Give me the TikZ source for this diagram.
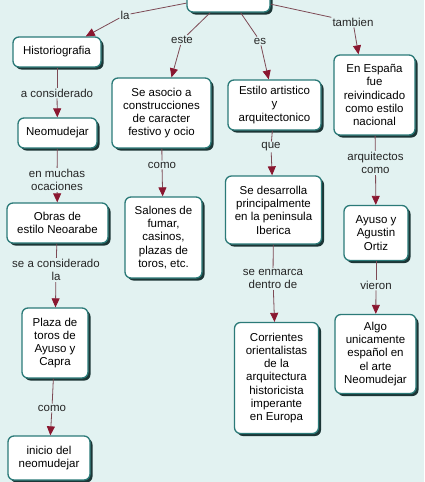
\documentclass[tikz,border=0pt]{standalone}
\usepackage{fontspec}
\setmainfont{Liberation Sans}
\usetikzlibrary{arrows.meta,shadows}
\definecolor{bgcol}{HTML}{E2F2F1}
\definecolor{bordercol}{HTML}{2B7A78}
\definecolor{shadowcol}{HTML}{1C3636}
\definecolor{tipcol}{HTML}{8A1730}
\definecolor{linecol}{HTML}{7D4A55}
\tikzset{
  cbox/.style={draw=bordercol, line width=1.3pt, fill=white, rounded corners=6pt,
    align=center, inner sep=1pt, font=\fontsize{11.5}{13.3}\selectfont,
    drop shadow={shadow xshift=2.5pt, shadow yshift=-2.5pt, fill=shadowcol, opacity=1}},
  clabel/.style={fill=bgcol, align=center, inner sep=1pt, text=black!85,
    font=\fontsize{11.5}{13.3}\selectfont},
  conn/.style={draw=linecol, line width=0.8pt},
  carrow/.style={conn, -{Triangle[length=9pt,width=8pt,fill=tipcol,color=tipcol]}}
}
\begin{document}
\begin{tikzpicture}[x=1pt,y=-1pt]
\useasboundingbox[fill=bgcol] (0,0) rectangle (424,482);
% boxes
\node[cbox, minimum width=83pt, minimum height=34pt] (top) at (228.5,-5) {};
\node[cbox, minimum width=88pt, minimum height=30pt] (hist) at (57,52) {Historiografia};
\node[cbox, minimum width=79pt, minimum height=30pt] (neo) at (57.5,133) {Neomudejar};
\node[cbox, minimum width=99pt, minimum height=70pt] (seas) at (161.5,113) {Se asocio a\\construcciones\\de caracter\\festivo y ocio};
\node[cbox, minimum width=93pt, minimum height=50pt] (estilo) at (274.5,105) {Estilo artistico\\y\\arquitectonico};
\node[cbox, minimum width=81pt, minimum height=80pt] (espana) at (374.5,95) {En España\\fue\\reivindicado\\como estilo\\nacional};
\node[cbox, minimum width=101pt, minimum height=40pt] (obras) at (57.5,223) {Obras de\\estilo Neoarabe};
\node[cbox, minimum width=77pt, minimum height=81pt] (salones) at (163.5,237.5) {Salones de\\fumar,\\casinos,\\plazas de\\toros, etc.};
\node[cbox, minimum width=66pt, minimum height=70pt] (plaza) at (55,343) {Plaza de\\toros de\\Ayuso y\\Capra};
\node[cbox, minimum width=82pt, minimum height=44pt] (inicio) at (49,458) {inicio del\\neomudejar};
\node[cbox, minimum width=96pt, minimum height=68pt] (desarrolla) at (273.5,210) {Se desarrolla\\principalmente\\en la peninsula\\Iberica};
\node[cbox, minimum width=84pt, minimum height=111pt] (corrientes) at (276.5,378) {Corrientes\\orientalistas\\de la\\arquitectura\\historicista\\imperante\\en Europa};
\node[cbox, minimum width=64pt, minimum height=55pt] (ayuso) at (376,233) {Ayuso y\\Agustin\\Ortiz};
\node[cbox, minimum width=81pt, minimum height=79pt] (algo) at (375.5,354) {Algo\\unicamente\\español en\\el arte\\Neomudejar};
% labels
\node[clabel] (lla) at (125,15) {la};
\node[clabel] (leste) at (182,40) {este};
\node[clabel] (les) at (260,41) {es};
\node[clabel] (ltamb) at (353,22) {tambien};
\node[clabel] (lacons) at (57,93) {a considerado};
\node[clabel] (lmuchas) at (57,180) {en muchas\\ocaciones};
\node[clabel] (lcomo1) at (162,165) {como};
\node[clabel] (lsea) at (56,270) {se a considerado\\la};
\node[clabel] (lcomo2) at (52,408) {como};
\node[clabel] (lque) at (271,147) {que};
\node[clabel] (lenm) at (273,279) {se enmarca\\dentro de};
\node[clabel] (larq) at (375.5,163) {arquitectos\\como};
\node[clabel] (lvier) at (376,285) {vieron};
% connectors
\draw[conn] (top) -- (lla);
\draw[carrow] (lla) -- (hist);
\draw[conn] (top) -- (leste);
\draw[carrow] (leste) -- (seas);
\draw[conn] (top) -- (les);
\draw[carrow] (les) -- (estilo);
\draw[conn] (top) -- (ltamb);
\draw[carrow] (ltamb) -- ([xshift=-16pt]espana.north);
\draw[conn] (hist) -- (lacons);
\draw[carrow] (lacons) -- (neo);
\draw[conn] (neo) -- (lmuchas);
\draw[carrow] (lmuchas) -- (obras);
\draw[conn] (seas) -- (lcomo1);
\draw[carrow] (lcomo1) -- (salones);
\draw[conn] (obras) -- (lsea);
\draw[carrow] (lsea) -- (plaza);
\draw[conn] (plaza) -- (lcomo2);
\draw[carrow] (lcomo2) -- (inicio);
\draw[conn] (estilo) -- (lque);
\draw[carrow] (lque) -- (desarrolla);
\draw[conn] (desarrolla) -- (lenm);
\draw[carrow] (lenm) -- (corrientes);
\draw[conn] (espana) -- (larq);
\draw[carrow] (larq) -- (ayuso);
\draw[conn] (ayuso) -- (lvier);
\draw[carrow] (lvier) -- (algo);
\end{tikzpicture}
\end{document}
